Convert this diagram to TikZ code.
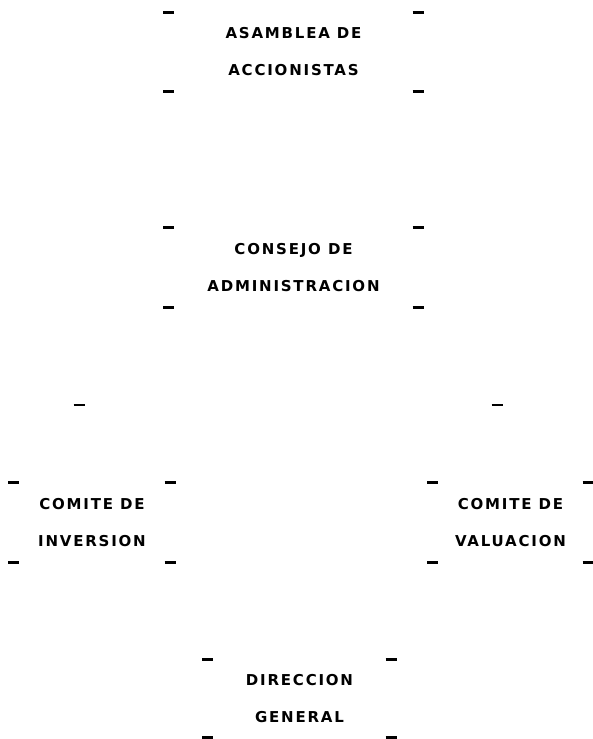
\documentclass[tikz,border=0pt]{standalone}
\usepackage{fontspec}
\newfontfamily\plotfont[LetterSpace=12]{DejaVu Sans}
\usetikzlibrary{positioning}

\begin{document}
\begin{tikzpicture}[
  x=1pt, y=-1pt,
  font=\plotfont\bfseries\fontsize{15}{37}\selectfont,
  orgbox/.style={inner sep=0pt, align=center, minimum height=78pt},
  cornermark/.style={line width=2.8pt},
]
\useasboundingbox (0,0) rectangle (592,739);

% ===== top: assembly and board =====
\node[orgbox, minimum width=249pt] (asamblea) at (293.5,52) {ASAMBLEA DE\\ACCIONISTAS};
\node[orgbox, minimum width=249pt, minimum height=79pt] (consejo) at (293.5,267.5) {CONSEJO DE\\ADMINISTRACION};

% ===== committees =====
\coordinate (ramaizq) at (79,405);
\coordinate (ramader) at (497,405);
\node[orgbox, minimum width=156pt, minimum height=79pt] (inversion) at (92,522.5) {COMITE DE\\INVERSION};
\node[orgbox, minimum width=155pt, minimum height=79pt] (valuacion) at (510.5,522.5) {COMITE DE\\VALUACION};

% ===== management =====
\node[orgbox, minimum width=183pt, minimum height=77pt] (direccion) at (299.5,698.5) {DIRECCION\\GENERAL};

% corner marks of every box
\foreach \b in {asamblea, consejo, inversion, valuacion, direccion}
  \foreach \c in {north west, north east, south west, south east}
    \draw[cornermark] ([xshift=-5.5pt]\b.\c) -- ([xshift=5.5pt]\b.\c);
\draw[cornermark] ([xshift=-5.5pt]ramaizq) -- ([xshift=5.5pt]ramaizq);
\draw[cornermark] ([xshift=-5.5pt]ramader) -- ([xshift=5.5pt]ramader);

\end{tikzpicture}
\end{document}
